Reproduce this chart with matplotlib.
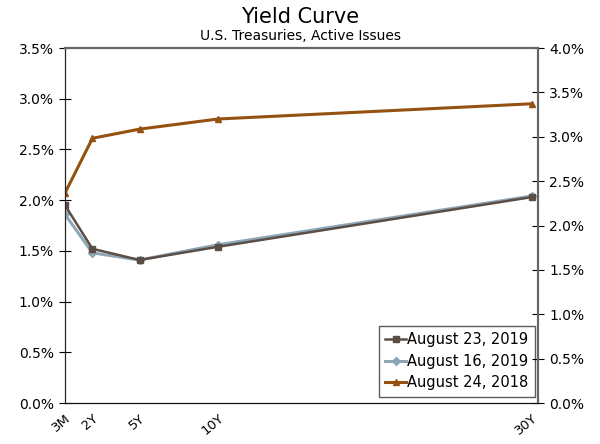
import matplotlib
matplotlib.use("Agg")
import matplotlib.pyplot as plt
from matplotlib.ticker import FuncFormatter

maturity_years = [0.25, 2, 5, 10, 30]
tick_labels = ["3M", "2Y", "5Y", "10Y", "30Y"]
aug23_2019 = [1.95, 1.52, 1.41, 1.54, 2.03]
aug16_2019 = [1.86, 1.48, 1.41, 1.56, 2.04]
aug24_2018 = [2.07, 2.61, 2.70, 2.80, 2.95]

plt.rcParams['font.family'] = ['DejaVu Sans']
fig = plt.figure(figsize=(6.0, 4.44), dpi=100)
ax = fig.add_axes([65/600, 1-403/444, 473/600, 355/444])

ax.plot(maturity_years, aug23_2019, color='#5b4e46', marker='s', markersize=5, lw=1.8, label='August 23, 2019', zorder=4)
ax.plot(maturity_years, aug16_2019, color='#8ea7b7', marker='D', markersize=4, lw=2.2, label='August 16, 2019', zorder=3)
ax.plot(maturity_years, aug24_2018, color='#94510f', marker='^', markersize=5, lw=2.2, label='August 24, 2018', zorder=5)

ax.set_xlim(0.25, 30.4)
ax.set_ylim(0, 3.5)
ax.set_yticks([0, 0.5, 1.0, 1.5, 2.0, 2.5, 3.0, 3.5])
ax.yaxis.set_major_formatter(FuncFormatter(lambda v, p: f"{v:.1f}%"))
ax.set_xticks(maturity_years)
ax.set_xticklabels(tick_labels, rotation=40, ha='right', rotation_mode='anchor')
ax.tick_params(axis='x', length=0, labelsize=9.5, pad=6)
ax.tick_params(axis='y', direction='inout', length=8, labelsize=10, pad=4)

ax2 = ax.twinx()
ax2.set_ylim(0, 4.0)
ax2.set_yticks([0, 0.5, 1.0, 1.5, 2.0, 2.5, 3.0, 3.5, 4.0])
ax2.yaxis.set_major_formatter(FuncFormatter(lambda v, p: f"{v:.1f}%"))
ax2.tick_params(axis='y', direction='inout', length=8, labelsize=10, pad=4)

for a in (ax, ax2):
    a.spines['left'].set_color('#222222')
    a.spines['bottom'].set_color('#111111')
    a.spines['right'].set_color('#666666')
    a.spines['top'].set_color('#666666')
    a.spines['top'].set_linewidth(1.5)
    a.spines['right'].set_linewidth(1.5)

leg = ax.legend(loc='lower right', bbox_to_anchor=(0.994, 0.017), borderaxespad=0, frameon=True, fancybox=False,
                edgecolor='#333333', fontsize=10.5, handlelength=1.4, handletextpad=0.1,
                borderpad=0.45, labelspacing=0.45, markerscale=1.0)
leg.get_frame().set_linewidth(1.0)

fig.text(0.5, 1-17/444, "Yield Curve", ha='center', va='center', fontsize=15)
fig.text(0.5, 1-36/444, "U.S. Treasuries, Active Issues", ha='center', va='center', fontsize=10)

fig.savefig("out.png", dpi=100)
